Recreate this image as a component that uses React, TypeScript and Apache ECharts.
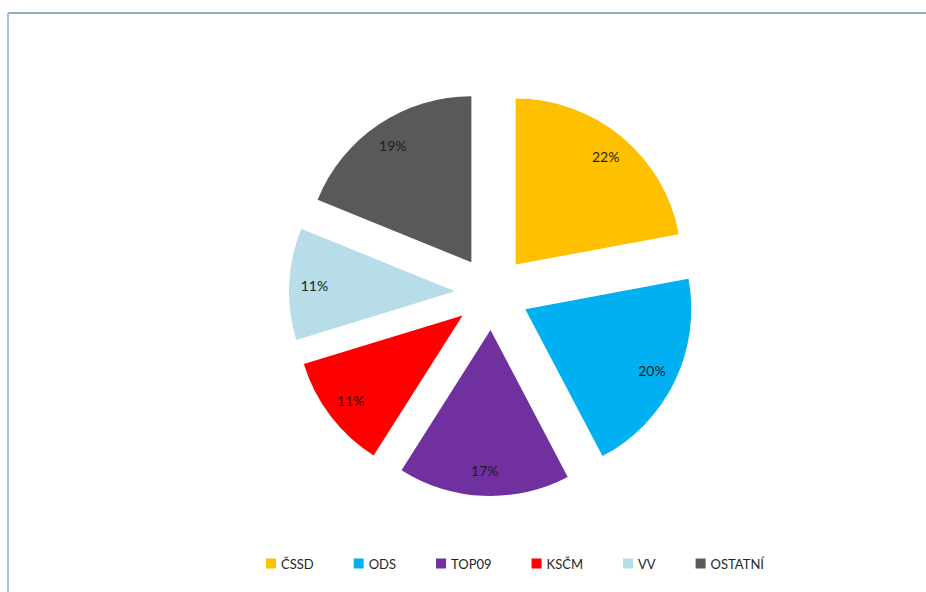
import React, { useEffect, useRef } from "react";
import * as echarts from "echarts";

const categories = ["ČSSD", "ODS", "TOP09", "KSČM", "VV", "OSTATNÍ"];
const values = [22.08, 20.22, 16.7, 11.27, 10.88, 18.85];
const colors = ["#FFC000", "#00B0F0", "#7030A0", "#FF0000", "#B7DDE8", "#595959"];

const CENTER: [number, number] = [492, 293];
const R = 166;
const OFFSET = 37;

export default function App() {
  const ref = useRef<HTMLDivElement>(null);
  useEffect(() => {
    if (!ref.current) return;
    const chart = echarts.init(ref.current, undefined, { renderer: "svg" });
    const mainData = categories.map((name, i) => ({
      name,
      value: values[i],
      selected: true,
      itemStyle: { color: colors[i] },
    }));
    const labelData = categories.map((name, i) => ({
      name,
      value: values[i],
      selected: true,
    }));
    chart.setOption({
      animation: false,
      backgroundColor: "#ffffff",
      graphic: [
        {
          type: "line",
          shape: { x1: 8, y1: 13, x2: 926, y2: 13 },
          style: { stroke: "#93a9c6", lineWidth: 2 },
          silent: true,
        },
        {
          type: "line",
          shape: { x1: 8, y1: 13, x2: 8, y2: 592 },
          style: { stroke: "#a9c2e4", lineWidth: 2 },
          silent: true,
        },
      ],
      legend: {
        left: 266,
        top: 557,
        padding: 0,
        itemWidth: 10,
        itemHeight: 10,
        itemGap: 40,
        icon: "rect",
        selectedMode: false,
        textStyle: { fontFamily: "Lato", fontSize: 13, color: "#262626" },
        data: categories.map((name, i) => ({ name, itemStyle: { color: colors[i] } })),
      },
      series: [
        {
          type: "pie",
          center: CENTER,
          radius: [0, R],
          startAngle: 90,
          clockwise: true,
          selectedMode: "multiple",
          selectedOffset: OFFSET,
          silent: true,
          label: { show: false },
          labelLine: { show: false },
          select: { itemStyle: { borderWidth: 0 } },
          emphasis: { disabled: true },
          data: mainData,
        },
        {
          type: "pie",
          center: CENTER,
          radius: [R * 0.66, R],
          startAngle: 90,
          clockwise: true,
          selectedMode: "multiple",
          selectedOffset: OFFSET,
          silent: true,
          percentPrecision: 0,
          itemStyle: { color: "rgba(0,0,0,0)" },
          select: { itemStyle: { color: "rgba(0,0,0,0)", borderWidth: 0 } },
          emphasis: { disabled: true },
          label: {
            show: true,
            position: "inner",
            formatter: "{d}%",
            fontFamily: "Lato",
            fontSize: 14,
            color: "#1e1e1e",
          },
          labelLine: { show: false },
          data: labelData,
        },
      ],
    });
    return () => chart.dispose();
  }, []);
  return (
    <div
      ref={ref}
      style={{ position: "fixed", left: 0, top: 0, width: 926, height: 592, background: "#fff" }}
    />
  );
}
